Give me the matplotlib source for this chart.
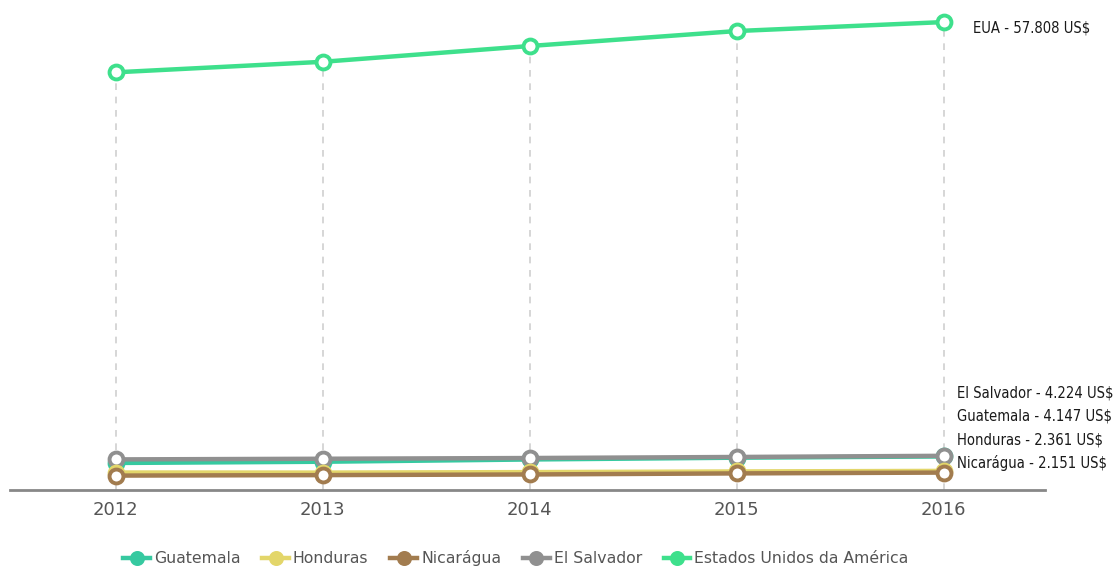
import matplotlib.pyplot as plt

# data (GDP per capita, US$)
years = [2012, 2013, 2014, 2015, 2016]
guatemala = [3340, 3490, 3770, 3990, 4147]
honduras = [2160, 2150, 2210, 2290, 2361]
nicaragua = [1780, 1840, 1920, 2050, 2151]
el_salvador = [3780, 3860, 3950, 4080, 4224]
eua = [51600, 52900, 54850, 56700, 57808]

names = ['Guatemala', 'Honduras', 'Nicarágua', 'El Salvador', 'Estados Unidos da América']
series = [guatemala, honduras, nicaragua, el_salvador, eua]
colors = ['#36c9a0', '#e3d66a', '#a27c4f', '#909090', '#3ee08c']

end_labels = [
    ('EUA - 57.808 US$', 28),
    ('El Salvador - 4.224 US$', 393),
    ('Guatemala - 4.147 US$', 416),
    ('Honduras - 2.361 US$', 440),
    ('Nicarágua - 2.151 US$', 463),
]

W, H = 1118, 567
fig = plt.figure(figsize=(W / 100, H / 100), dpi=100)
ax = fig.add_axes([10 / W, (H - 490) / H, 1035 / W, 480 / H])

ax.vlines(years, 0, eua, colors='#d0d0d0', linestyles=(0, (4, 4)), linewidth=1.2, zorder=1)

# draw order so gray sits on top of teal, brown on top of yellow
order = [4, 0, 3, 1, 2]
handles = {}
for i in order:
    h, = ax.plot(years, series[i], color=colors[i], lw=3.2, marker='o', ms=10,
                 mfc='white', mec=colors[i], mew=2.8, zorder=3 + order.index(i),
                 label=names[i])
    handles[i] = h

ax.set_xlim(2011.49, 2016.49)
ax.set_ylim(0, 59300)
for s in ['top', 'left', 'right']:
    ax.spines[s].set_visible(False)
ax.spines['bottom'].set_color('#888888')
ax.spines['bottom'].set_linewidth(2)
ax.set_yticks([])
ax.set_xticks(years)
ax.set_xticklabels([str(y) for y in years])
ax.tick_params(axis='x', length=0, pad=8, labelsize=13, labelcolor='#555555')

for txt, ypx in end_labels:
    fig.text(957 / W if ypx > 100 else 973 / W, 1 - ypx / H, txt, fontsize=10.6,
             family='DejaVu Sans', color='#1a1a1a', va='center', ha='left',
             fontstretch='condensed')

leg = fig.legend([handles[i] for i in range(5)], names, loc='center',
                 bbox_to_anchor=(0.4615, 1 - 558 / H), ncol=5, frameon=False,
                 fontsize=11.3, handlelength=1.7, handletextpad=0.25, columnspacing=1.4,
                 labelcolor='#555555')
for lh in leg.legend_handles:
    lh.set_markerfacecolor(lh.get_color())
    lh.set_markersize(8)

fig.savefig('out.png', dpi=100)
